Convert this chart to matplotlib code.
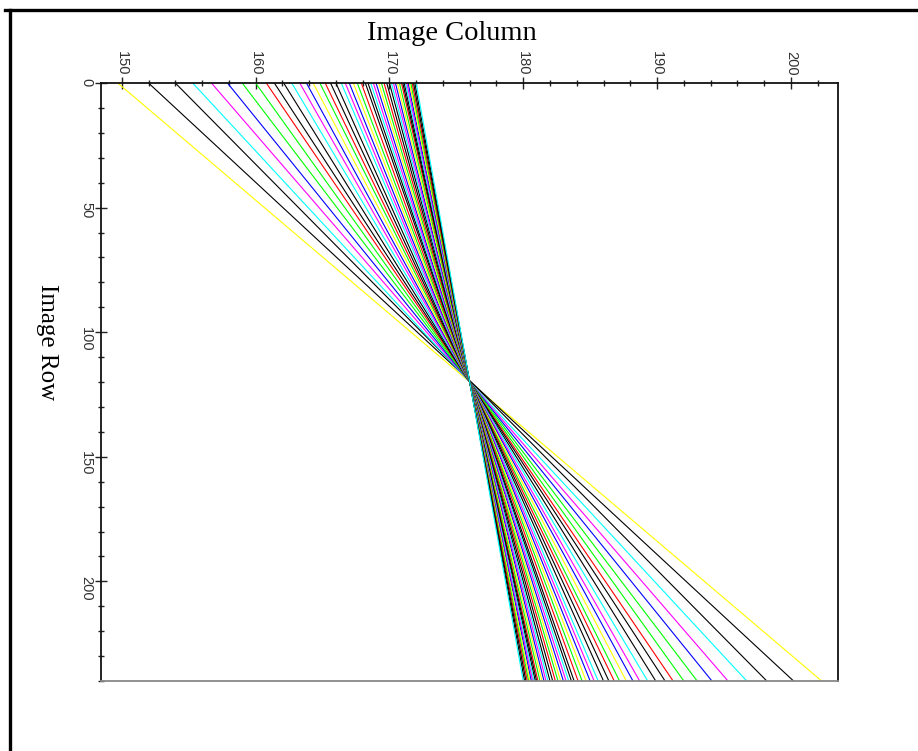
import matplotlib
matplotlib.use('Agg')
import matplotlib.pyplot as plt
from matplotlib.lines import Line2D
from matplotlib.ticker import MultipleLocator

# rows sampled for every line (top and bottom of the image)
rows = [0, 240]

# column where each line meets row 0 and row 240
col_top = [149.7, 152.0, 154.0, 155.3, 156.7, 157.9, 159.0, 160.0, 160.8, 161.4,
           162.1, 162.7, 163.3, 163.8, 164.3, 164.8, 165.2, 165.6, 166.0, 166.4,
           166.7, 167.0, 167.3, 167.6, 167.9, 168.2, 168.4, 168.6, 168.8, 169.0,
           169.2, 169.4, 169.6, 169.8, 170.0, 170.15, 170.3, 170.45, 170.6, 170.75,
           170.9, 171.0, 171.1, 171.2, 171.3, 171.4, 171.5, 171.6, 171.7, 171.8,
           171.9, 172.0]
col_bottom = [202.3, 200.2, 198.2, 196.7, 195.3, 194.1, 193.0, 192.0, 191.2, 190.6,
              189.9, 189.3, 188.7, 188.2, 187.7, 187.2, 186.8, 186.4, 186.0, 185.6,
              185.3, 185.0, 184.7, 184.4, 184.1, 183.8, 183.6, 183.4, 183.2, 183.0,
              182.8, 182.6, 182.4, 182.2, 182.0, 181.85, 181.7, 181.55, 181.4, 181.25,
              181.1, 181.0, 180.9, 180.8, 180.7, 180.6, 180.5, 180.4, 180.3, 180.2,
              180.1, 180.0]

palette = ['black', 'black', 'cyan', 'magenta', 'blue', 'yellow', '#00ff00', 'red']
colors = ['yellow'] + [palette[i % len(palette)] for i in range(len(col_top) - 1)]
colors[6] = '#00ff00'  # first group has no yellow between blue and green

W, H = 918, 751
fig = plt.figure(figsize=(W / 100, H / 100), dpi=100)
ax = fig.add_axes([101 / W, 1 - 681 / H, 737 / W, 598 / H])

for c0, c1, col in zip(col_top, col_bottom, colors):
    ax.plot([c0, c1], rows, color=col, lw=0.8, solid_capstyle='butt')

ax.set_xlim(148.45, 203.52)
ax.set_ylim(240, 0)

ax.xaxis.tick_top()
ax.xaxis.set_major_locator(MultipleLocator(10))
ax.xaxis.set_minor_locator(MultipleLocator(2))
ax.yaxis.set_major_locator(MultipleLocator(50))
ax.yaxis.set_minor_locator(MultipleLocator(10))
ax.tick_params(which='major', direction='inout', length=8, width=1, color='#222222',
               labelsize=10.5, labelcolor='#333333', pad=1.5)
ax.tick_params(which='minor', direction='inout', length=5, width=1, color='#222222')
ax.tick_params(axis='x', which='both', top=True, bottom=False)
ax.tick_params(axis='y', which='both', left=True, right=False)
for lab in ax.get_xticklabels() + ax.get_yticklabels():
    lab.set_rotation(-90)
    lab.set_family('Liberation Sans')

for side in ['left', 'top', 'right']:
    ax.spines[side].set_color('#111111')
    ax.spines[side].set_linewidth(1.3)
ax.spines['bottom'].set_color('#888888')
ax.spines['bottom'].set_linewidth(1.3)

fig.text(452 / W, 1 - 40 / H, 'Image Column', ha='center', va='baseline',
         family='Liberation Serif', fontsize=20.5)
fig.text(47 / W, 1 - 342 / H, 'Image Row', ha='center', va='center', rotation=-90,
         family='Liberation Serif', fontsize=18)

# outer frame (top and left edges)
fig.add_artist(Line2D([5 / W, 1], [1 - 10 / H, 1 - 10 / H], transform=fig.transFigure,
                      color='black', lw=2.4))
fig.add_artist(Line2D([10 / W, 10 / W], [0, 1 - 10 / H], transform=fig.transFigure,
                      color='black', lw=2.4))

fig.savefig('out.png', dpi=100)
